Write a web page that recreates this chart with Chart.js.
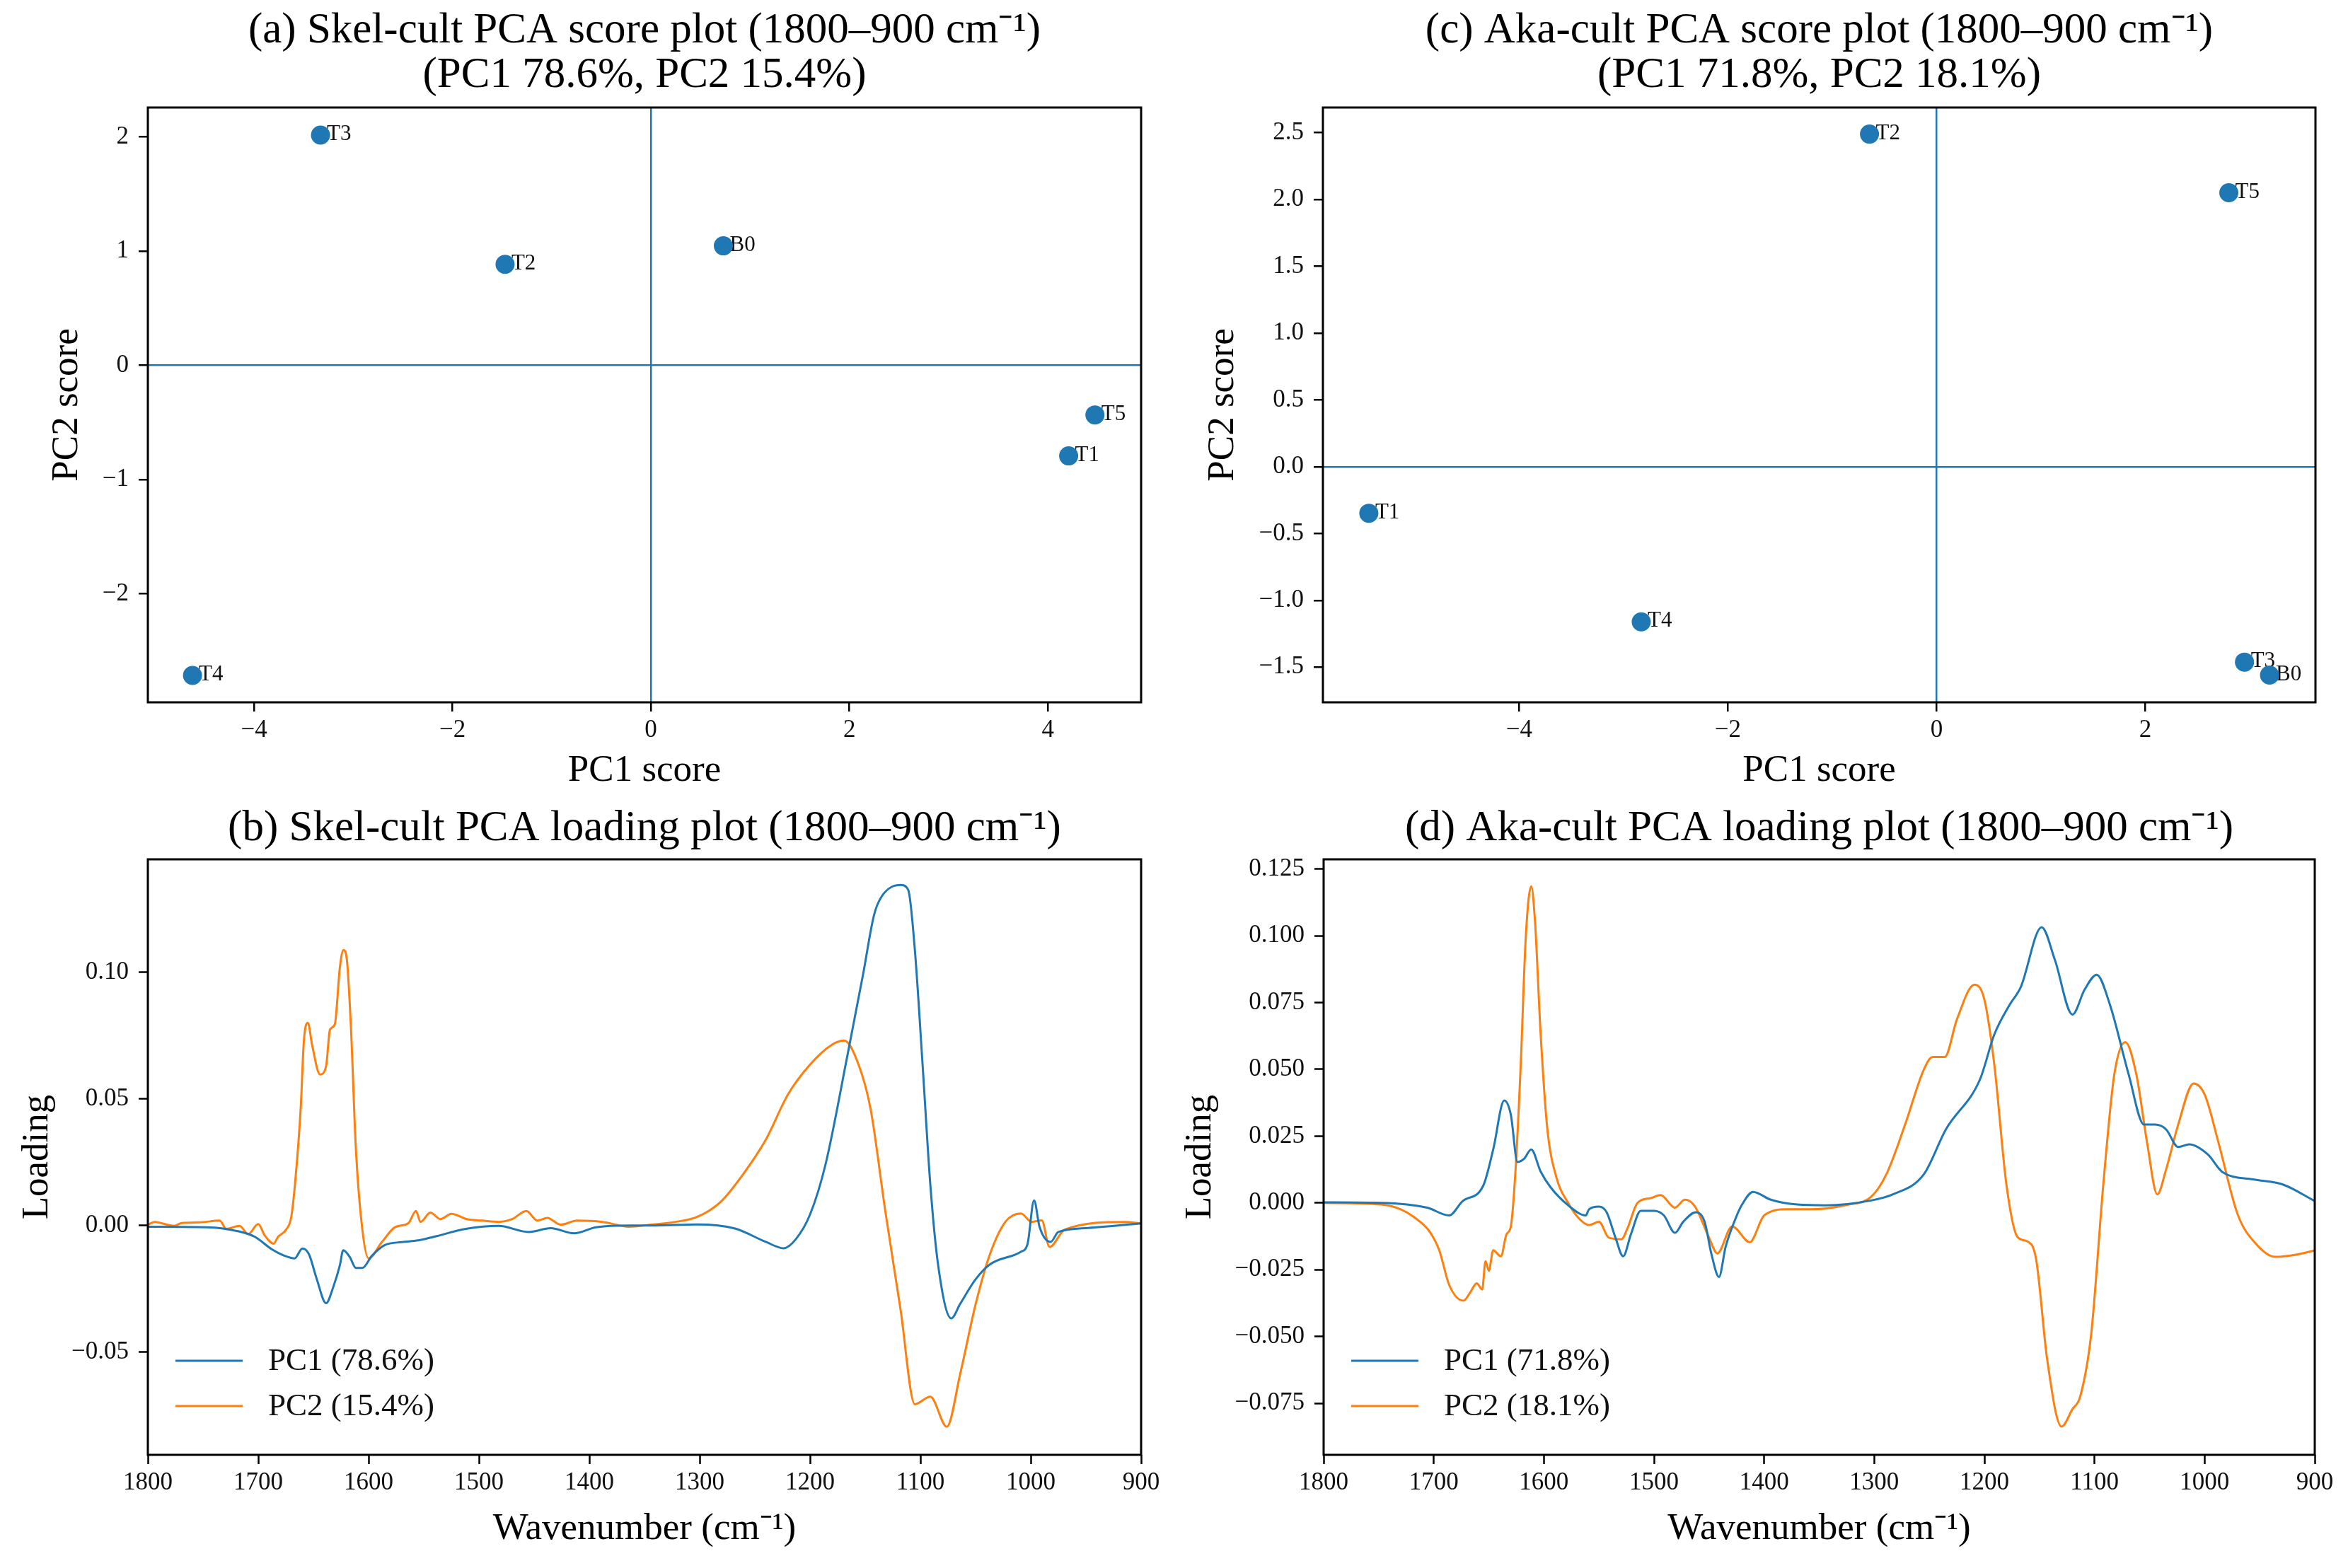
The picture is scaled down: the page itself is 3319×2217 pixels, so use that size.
<!DOCTYPE html>
<html>
<head>
<meta charset="utf-8">
<script src="https://cdn.jsdelivr.net/npm/chart.js@4.4.1/dist/chart.umd.min.js"></script>
<style>
html,body{margin:0;padding:0;background:#fff;}
#wrap{position:relative;width:3319px;height:2217px;background:#fff;}
#wrap canvas{position:absolute;left:0;top:0;}
</style>
</head>
<body>
<div id="wrap">
<canvas id="chartA" width="3319" height="2217"></canvas>
<canvas id="chartB" width="3319" height="2217"></canvas>
<canvas id="chartC" width="3319" height="2217"></canvas>
<canvas id="chartD" width="3319" height="2217"></canvas>
</div>
<script>
// ---------- data ----------
const sampleNames = ['B0', 'T1', 'T2', 'T3', 'T4', 'T5'];
const skelScorePC1 = [0.73, 4.21, -1.47, -3.33, -4.62, 4.475];
const skelScorePC2 = [1.046, -0.793, 0.884, 2.016, -2.715, -0.434];
const akaScorePC1 = [3.19, -5.44, -0.643, 2.95, -2.83, 2.80];
const akaScorePC2 = [-1.559, -0.348, 2.489, -1.462, -1.161, 2.05];

const skelPC1Wn = [1800,1747,1717,1703,1688,1676,1667,1660,1654,1647,1638.5,1632,1626,1623,1617,1611.5,1605.6,1597,1585,1570,1555,1541,1511,1482,1455,1435,1414,1394,1364,1344,1302,1268,1240,1224,1213,1200,1186,1166,1152,1142,1135,1118,1111,1105,1098,1091,1084,1072,1064,1050,1037,1009,1003,997,992,982,975,948,900];
const skelPC1 = [-0.0005,-0.0007,-0.0024,-0.0045,-0.0093,-0.012,-0.013,-0.0091,-0.0114,-0.0211,-0.0307,-0.0243,-0.0157,-0.0098,-0.0125,-0.0168,-0.0168,-0.012,-0.0077,-0.0066,-0.0059,-0.0045,-0.0013,-0.0002,-0.0026,-0.0011,-0.0031,-0.0007,0,0,0.0004,-0.0012,-0.0065,-0.009,-0.0055,0.0043,0.024,0.0674,0.099,0.1226,0.130,0.1345,0.1325,0.1088,0.0635,0.0162,-0.0154,-0.0367,-0.031,-0.0213,-0.0154,-0.0104,-0.0075,0.0099,-0.0006,-0.0065,-0.0026,-0.001,0.0008];

const skelPC2Wn = [1800,1794,1776,1770,1753,1735,1729,1717,1709,1700,
  1694,1686,1682,1675,1670,1666,1661.5,1658.6,1655,1651,
  1644,1638.5,1635,1630.6,1626,1622.7,1619.7,1616,1611.5,1605.6,
  1600,1588,1576,1564,1557,1553,1544,1535,1525,1511,
  1497,1482,1470,1457,1447,1438,1426,1411,1388,1364,
  1344,1322,1302,1281,1261,1240,1220,1200,1180,1169,
  1156,1145,1132,1118,1105,1091,1076,1064,1050,1037,
  1023,1009,999,990,983,969,914,900];
const skelPC2 = [0.0003,0.0014,-0.0002,0.0009,0.0012,0.0019,-0.0013,-0.0002,-0.0034,0.0005,
  -0.004,-0.0072,-0.0045,-0.0018,0.0035,0.0196,0.0463,0.073,0.080,0.0709,
  0.0596,0.0629,0.0773,0.0794,0.1019,0.1088,0.1051,0.0784,0.0303,-0.0018,
  -0.013,-0.0066,-0.0007,0.0009,0.0057,0.0014,0.0051,0.0025,0.0046,0.0025,
  0.0019,0.0014,0.0025,0.0057,0.0019,0.003,0.0003,0.0019,0.0014,-0.0005,
  0.0003,0.0014,0.0034,0.0093,0.020,0.0339,0.0517,0.0635,0.0714,0.073,
  0.0635,0.0457,0.0063,-0.0331,-0.0706,-0.0676,-0.0795,-0.0588,-0.0312,-0.0114,
  0.0014,0.0047,0.0014,0.002,-0.0085,-0.0016,0.0014,0.0008];

const akaPC1Wn = [1800,1748,1706,1686,1674,1655,1646,1636,1630,1624,
  1618,1611.5,1603,1594,1577,1562,1559,1550,1543,1535,
  1528,1521,1512,1500,1491,1481,1473.5,1462,1454,1448,
  1441,1435,1426,1420,1410,1394,1370,1344,1303,1283,
  1255,1235,1204,1191,1177,1167,1148,1136,1120,1109,
  1098,1086,1069,1055,1045,1035,1024,1014,997,984,
  956,929,900];
const akaPC1 = [0.0002,0,-0.0018,-0.0047,0.0006,0.0065,0.020,0.0383,0.033,0.0153,
  0.0165,0.020,0.0118,0.0059,-0.0012,-0.0047,-0.0024,-0.0014,-0.0035,-0.013,
  -0.020,-0.0118,-0.003,-0.003,-0.0047,-0.0112,-0.0071,-0.0035,-0.0071,-0.0189,
  -0.0277,-0.0165,-0.0059,-0.0006,0.0041,0.0012,-0.0006,-0.0009,0.0009,0.0032,
  0.0107,0.0275,0.0462,0.063,0.0742,0.0807,0.1032,0.091,0.0705,0.0798,
  0.0854,0.0742,0.0481,0.0293,0.0293,0.0275,0.0209,0.0219,0.0181,0.0116,
  0.0088,0.0069,0.0007];

const akaPC2Wn = [1800,1748,1730,1718,1704,1695,1686,1673,1667,1661,
  1656,1653,1650,1646,1639,1634,1630,1626,1621,1616.5,
  1611.5,1608,1603,1597,1588.5,1578,1568,1559,1550,1541,
  1529.5,1524,1515,1503,1494,1481,1472,1463,1450,1442.5,
  1429,1413,1400,1379,1357,1323,1303,1289,1272,1255,
  1247,1236,1225,1209,1200,1191,1180,1170,1160,1153,
  1143,1130,1120,1113,1103,1092,1082,1072,1062,1052,
  1043,1035,1024,1010,1000,987,970,953,936,916,
  900];
const akaPC2 = [0,-0.0006,-0.0024,-0.0053,-0.0106,-0.0177,-0.0307,-0.0366,-0.0336,-0.0301,
  -0.0324,-0.0218,-0.0254,-0.0177,-0.020,-0.0118,-0.0088,0.0106,0.0519,0.099,
  0.1185,0.105,0.0637,0.0283,0.0094,0,-0.0059,-0.0083,-0.0071,-0.013,
  -0.0136,-0.0094,0,0.0018,0.0029,-0.0018,0.0012,-0.0012,-0.013,-0.0189,
  -0.0088,-0.0147,-0.0047,-0.0024,-0.0024,-0.0006,0.0022,0.0107,0.0293,0.0499,
  0.0546,0.0546,0.0686,0.0817,0.0761,0.0518,0.0069,-0.0127,-0.0146,-0.0211,
  -0.0585,-0.0837,-0.0772,-0.0725,-0.0491,0.0069,0.0481,0.0602,0.0481,0.0219,
  0.0032,0.0125,0.0293,0.0447,0.0406,0.0219,-0.0043,-0.0155,-0.0202,-0.0193,
  -0.0178];

// tick label values
const skelScoreXTicks = [-4, -2, 0, 2, 4];
const skelScoreYTicks = [-2, -1, 0, 1, 2];
const akaScoreXTicks = [-4, -2, 0, 2];
const akaScoreYTicks = [-1.5, -1.0, -0.5, 0.0, 0.5, 1.0, 1.5, 2.0, 2.5];
const wavenumberTicks = [1800, 1700, 1600, 1500, 1400, 1300, 1200, 1100, 1000, 900];
const skelLoadingYTicks = [-0.05, 0.00, 0.05, 0.10];
const akaLoadingYTicks = [-0.075, -0.050, -0.025, 0.000, 0.025, 0.050, 0.075, 0.100, 0.125];

// titles / labels
const titleA = ['(a) Skel-cult PCA score plot (1800\u2013900 cm\u207B\u00B9)', '(PC1 78.6%, PC2 15.4%)'];
const titleB = '(b) Skel-cult PCA loading plot (1800\u2013900 cm\u207B\u00B9)';
const titleC = ['(c) Aka-cult PCA score plot (1800\u2013900 cm\u207B\u00B9)', '(PC1 71.8%, PC2 18.1%)'];
const titleD = '(d) Aka-cult PCA loading plot (1800\u2013900 cm\u207B\u00B9)';
const wnTitle = 'Wavenumber (cm\u207B\u00B9)';
const skelLegend = ['PC1 (78.6%)', 'PC2 (15.4%)'];
const akaLegend = ['PC1 (71.8%)', 'PC2 (18.1%)'];

// ---------- style ----------
const W = 3319, H = 2217;
const BLUE = '#1f77b4', ORANGE = '#ff7f0e';
const FONT = "'Liberation Serif','Times New Roman',Times,serif";
Chart.defaults.font.family = FONT;
Chart.defaults.color = '#000';

function zip(xs, ys) { return xs.map((x, i) => ({x: x, y: ys[i]})); }
function fmt(dec) {
  return function (v) {
    const s = Math.abs(v).toFixed(dec);
    return (v < -1e-12 ? '\u2212' : '') + s;
  };
}

const framePlugin = {
  id: 'frame',
  afterDraw(chart) {
    const a = chart.chartArea, ctx = chart.ctx;
    ctx.save();
    ctx.strokeStyle = '#000';
    ctx.lineWidth = 3;
    ctx.strokeRect(a.left, a.top, a.right - a.left, a.bottom - a.top);
    ctx.restore();
  }
};

const pointLabelPlugin = {
  id: 'pointLabels',
  beforeDatasetsDraw(chart, args, opts) {
    if (!opts || !opts.names) return;
    const meta = chart.getDatasetMeta(0);
    const ctx = chart.ctx;
    ctx.save();
    ctx.font = '31px ' + FONT;
    ctx.fillStyle = '#111';
    ctx.textAlign = 'left';
    ctx.textBaseline = 'middle';
    meta.data.forEach((pt, i) => ctx.fillText(opts.names[i], pt.x + 9, pt.y - 1));
    ctx.restore();
  }
};

const legendPlugin = {
  id: 'mplLegend',
  afterDraw(chart, args, opts) {
    if (!opts || !opts.show) return;
    const a = chart.chartArea, ctx = chart.ctx;
    ctx.save();
    chart.data.datasets.forEach((ds, i) => {
      const y = a.bottom - opts.rows[i];
      ctx.strokeStyle = ds.borderColor;
      ctx.lineWidth = 3;
      ctx.beginPath();
      ctx.moveTo(a.left + 39, y);
      ctx.lineTo(a.left + 134, y);
      ctx.stroke();
      ctx.fillStyle = '#111';
      ctx.font = '45px ' + FONT;
      ctx.textAlign = 'left';
      ctx.textBaseline = 'middle';
      ctx.fillText(ds.label, a.left + 170, y + 1);
    });
    ctx.restore();
  }
};

function axis(o) {
  const horiz = o.horiz;
  return {
    type: 'linear',
    min: o.min, max: o.max, reverse: !!o.reverse,
    afterBuildTicks: s => { s.ticks = o.ticks.map(v => ({value: v})); },
    afterFit: s => { if (horiz) s.height = o.size; else s.width = o.size; },
    border: {display: false},
    grid: {
      display: true,
      drawOnChartArea: !!o.zero,
      color: c => (o.zero && c.tick && c.tick.value === 0) ? BLUE : 'rgba(0,0,0,0)',
      lineWidth: o.zero ? 2.5 : 1,
      drawTicks: true, tickLength: 13, tickColor: '#000', tickWidth: 2.5
    },
    ticks: {
      font: {size: 35, family: FONT}, color: '#111', padding: horiz ? 6 : 14,
      maxRotation: 0, autoSkip: false, callback: fmt(o.dec)
    },
    title: {
      display: true, text: o.title, color: '#000',
      font: {size: 53, lineHeight: 1.2, family: FONT},
      padding: horiz ? {top: 0, bottom: o.tpad} : {top: o.tpad, bottom: 0}
    }
  };
}

function makeChart(id, cfg) {
  const b = cfg.box;
  return new Chart(document.getElementById(id), {
    type: cfg.type,
    data: {datasets: cfg.datasets},
    options: {
      responsive: false, animation: false, devicePixelRatio: 1,
      events: [],
      layout: {padding: {left: b.L - cfg.yW, top: cfg.layTop, right: W - b.R, bottom: H - b.B - cfg.xH}},
      plugins: {
        legend: {display: false},
        tooltip: {enabled: false},
        title: {
          display: true, text: cfg.title, fullSize: false, align: 'center', color: '#000',
          font: {size: 61, lineHeight: 63 / 61, weight: 'normal', family: FONT}, padding: cfg.titlePad
        },
        pointLabels: {names: cfg.names || null},
        mplLegend: {show: !!cfg.legend, rows: [133, 69]}
      },
      scales: {
        x: axis(Object.assign({horiz: true}, cfg.x)),
        y: axis(Object.assign({horiz: false}, cfg.y))
      }
    },
    plugins: [framePlugin, pointLabelPlugin, legendPlugin]
  });
}

function scatterSet(xs, ys) {
  return [{
    label: 'scores', data: zip(xs, ys),
    backgroundColor: BLUE, borderWidth: 0, pointRadius: 13.5, pointHoverRadius: 13.5
  }];
}
function lineSet(label, xs, ys, color) {
  return {
    label: label, data: zip(xs, ys), borderColor: color, backgroundColor: color,
    borderWidth: 3, pointRadius: 0, fill: false, cubicInterpolationMode: 'monotone'
  };
}

// (a)
makeChart('chartA', {
  type: 'scatter', title: titleA, names: sampleNames,
  box: {L: 209, T: 152, R: 1613, B: 993}, yW: 200, xH: 140, layTop: 0,
  titlePad: {top: 12.9, bottom: 13.1},
  datasets: scatterSet(skelScorePC1, skelScorePC2),
  x: {min: -5.07, max: 4.94, ticks: skelScoreXTicks, dec: 0, zero: true, size: 140, title: 'PC1 score', tpad: 11.2},
  y: {min: -2.95, max: 2.257, ticks: skelScoreYTicks, dec: 0, zero: true, size: 200, title: 'PC2 score', tpad: 54.2}
});

// (b)
makeChart('chartB', {
  type: 'line', title: titleB, legend: true,
  box: {L: 209, T: 1215, R: 1613, B: 2057}, yW: 200, xH: 150, layTop: 1140.9,
  titlePad: {top: 0, bottom: 11.1},
  datasets: [lineSet(skelLegend[0], skelPC1Wn, skelPC1, BLUE), lineSet(skelLegend[1], skelPC2Wn, skelPC2, ORANGE)],
  x: {min: 900, max: 1800, reverse: true, ticks: wavenumberTicks, dec: 0, size: 150, title: wnTitle, tpad: 13.2},
  y: {min: -0.0906, max: 0.1446, ticks: skelLoadingYTicks, dec: 2, size: 200, title: 'Loading', tpad: 12.2}
});

// (c)
makeChart('chartC', {
  type: 'scatter', title: titleC, names: sampleNames,
  box: {L: 1870, T: 152, R: 3273, B: 993}, yW: 200, xH: 140, layTop: 0,
  titlePad: {top: 12.9, bottom: 13.1},
  datasets: scatterSet(akaScorePC1, akaScorePC2),
  x: {min: -5.88, max: 3.63, ticks: akaScoreXTicks, dec: 0, zero: true, size: 140, title: 'PC1 score', tpad: 11.2},
  y: {min: -1.763, max: 2.688, ticks: akaScoreYTicks, dec: 1, zero: true, size: 200, title: 'PC2 score', tpad: 27.2}
});

// (d)
makeChart('chartD', {
  type: 'line', title: titleD, legend: true,
  box: {L: 1871, T: 1215, R: 3272, B: 2057}, yW: 230, xH: 150, layTop: 1140.9,
  titlePad: {top: 0, bottom: 11.1},
  datasets: [lineSet(akaLegend[0], akaPC1Wn, akaPC1, BLUE), lineSet(akaLegend[1], akaPC2Wn, akaPC2, ORANGE)],
  x: {min: 900, max: 1800, reverse: true, ticks: wavenumberTicks, dec: 0, size: 150, title: wnTitle, tpad: 13.2},
  y: {min: -0.0943, max: 0.1286, ticks: akaLoadingYTicks, dec: 3, size: 230, title: 'Loading', tpad: 24.2}
});
</script>
</body>
</html>
